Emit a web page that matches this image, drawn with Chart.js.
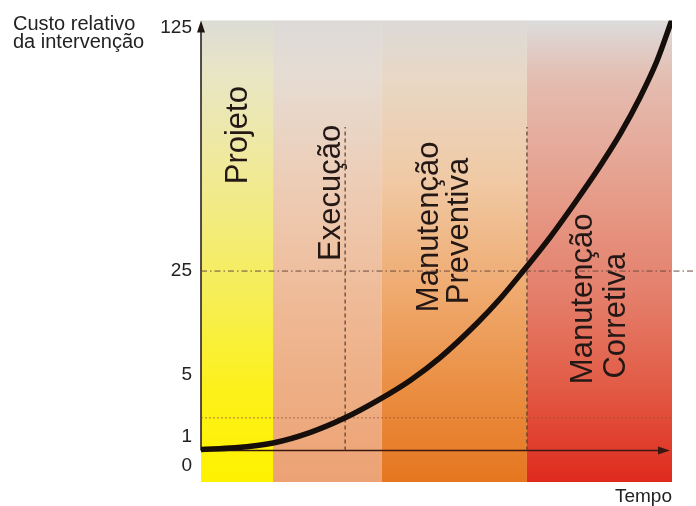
<!DOCTYPE html>
<html lang="pt">
<head>
  <meta charset="UTF-8">
  <title>Custo relativo da intervenção</title>
  <script src="https://cdn.jsdelivr.net/npm/chart.js"></script>
  <style>
    html, body { margin: 0; padding: 0; background: #fff; }
    .wrap { width: 696px; height: 506px; }
  </style>
</head>
<body>
<div class="wrap"><canvas id="costChart" width="696" height="506"></canvas></div>

<script>
  // phases along the time axis (0-100) and where they change
  const phaseNames = [['Projeto'], ['Execução'], ['Manutenção', 'Preventiva'], ['Manutenção', 'Corretiva']];
  const phaseEdges = [0, 15.3, 38.4, 69.2, 100];

  // cost curve (time, height on the drawing's 0-100 scale)
  const curveTime = [0, 7.2, 15.3, 23.1, 30.6, 38.0, 44.4, 50.7, 58.6, 63.5, 68.4, 74.1, 79.4, 84.7, 89.0, 93.2, 96.8, 100];
  const curveCost = [7.05, 7.4, 8.45, 10.7, 13.9, 17.95, 22.0, 26.9, 34.4, 39.7, 45.7, 53.0, 60.5, 68.4, 75.4, 83.3, 91.2, 100.2];

  // the cost axis is schematic: each label sits at its own height
  const costTickLevels = [3.6, 9.8, 23.3, 45.7, 98.3];
  const costTickLabels = ['0', '1', '5', '25', '125'];

  // guide lines
  const baseLevel = 6.84;      // where the time axis is drawn
  const level25 = 45.7;
  const level25End = 105.1;    // dashed line runs past the plot
  const dottedLevel = 13.9;
  const markerTimes = [30.6, 69.2];
  const markerTop = 76.9;

  const pts = (xs, ys) => xs.map((x, i) => ({ x: x, y: ys[i] }));

  // band gradients, top (grey) to bottom (saturated)
  const bandStops = [
    [[0, '#dcdcd6'], [0.12, '#e9e6c4'], [0.35, '#f1ea92'], [0.6, '#f6ee55'], [0.8, '#fcf11a'], [1, '#fff200']],
    [[0, '#dcdad8'], [0.12, '#e6dcd3'], [0.35, '#edcdb6'], [0.6, '#efbb98'], [0.8, '#eeae84'], [1, '#eca274']],
    [[0, '#dcdad8'], [0.12, '#e8d8c6'], [0.35, '#f0c9a4'], [0.6, '#efa86c'], [0.8, '#ea8e42'], [1, '#e6761f']],
    [[0, '#dcdcdc'], [0.12, '#e4beb2'], [0.35, '#e6a08e'], [0.6, '#e47e6a'], [0.8, '#e25a44'], [1, '#df2a1e']]
  ];
  // baseline / start of each rotated line, in axis units
  const labelAnchors = [
    [[9.8, 64.5]],
    [[29.5, 47.9]],
    [[50.3, 36.8], [56.7, 38.5]],
    [[83.0, 21.2], [90.0, 22.4]]
  ];

  const phaseBands = {
    id: 'phaseBands',
    beforeDatasetsDraw(chart) {
      const { ctx, chartArea: a, scales: { x, y } } = chart;
      ctx.save();
      phaseNames.forEach((names, i) => {
        const x0 = x.getPixelForValue(phaseEdges[i]);
        const x1 = x.getPixelForValue(phaseEdges[i + 1]);
        const g = ctx.createLinearGradient(0, a.top, 0, a.bottom);
        bandStops[i].forEach(s => g.addColorStop(s[0], s[1]));
        ctx.fillStyle = g;
        ctx.fillRect(x0, a.top, x1 - x0, a.bottom - a.top);
      });

      // rotated phase names
      ctx.fillStyle = '#231815';
      ctx.font = '31px "Liberation Sans", Arial, sans-serif';
      ctx.textAlign = 'left';
      ctx.textBaseline = 'alphabetic';
      phaseNames.forEach((names, i) => {
        names.forEach((txt, j) => {
          const p = labelAnchors[i][j];
          ctx.save();
          ctx.translate(x.getPixelForValue(p[0]), y.getPixelForValue(p[1]));
          ctx.rotate(-Math.PI / 2);
          ctx.fillText(txt, 0, 0);
          ctx.restore();
        });
      });

      // axes with arrow heads
      const ox = x.getPixelForValue(0);
      const oy = y.getPixelForValue(baseLevel);
      const xEnd = x.getPixelForValue(100) - 2;
      ctx.lineWidth = 1.5;
      ctx.strokeStyle = '#1e1512';
      ctx.fillStyle = '#1e1512';
      ctx.beginPath();
      ctx.moveTo(ox, oy);
      ctx.lineTo(ox, a.top + 8);
      ctx.stroke();
      ctx.beginPath();
      ctx.moveTo(ox, a.top);
      ctx.lineTo(ox - 4, a.top + 12);
      ctx.lineTo(ox + 4, a.top + 12);
      ctx.closePath();
      ctx.fill();

      ctx.strokeStyle = '#3a1810';
      ctx.fillStyle = '#3a1810';
      ctx.beginPath();
      ctx.moveTo(ox, oy);
      ctx.lineTo(xEnd - 8, oy);
      ctx.stroke();
      ctx.beginPath();
      ctx.moveTo(xEnd, oy);
      ctx.lineTo(xEnd - 12, oy - 4);
      ctx.lineTo(xEnd - 12, oy + 4);
      ctx.closePath();
      ctx.fill();
      ctx.restore();
    },
    afterDraw(chart) {
      const ctx = chart.ctx;
      ctx.save();
      ctx.fillStyle = '#222';
      ctx.font = '20px "Liberation Sans", Arial, sans-serif';
      ctx.textAlign = 'left';
      ctx.textBaseline = 'alphabetic';
      ctx.fillText('Custo relativo', 13, 30);
      ctx.fillText('da intervenção', 13, 48);
      ctx.restore();
    }
  };

  Chart.defaults.font.family = '"Liberation Sans", Arial, sans-serif';

  const guide = (data, color, dash, width) => ({
    data: data,
    borderColor: color,
    borderDash: dash,
    borderWidth: width,
    pointRadius: 0,
    tension: 0,
    clip: false
  });

  new Chart(document.getElementById('costChart'), {
    type: 'line',
    data: {
      datasets: [
        {
          label: 'Custo relativo',
          data: pts(curveTime, curveCost),
          borderColor: '#160e0b',
          borderWidth: 5.5,
          pointRadius: 0,
          cubicInterpolationMode: 'monotone'
        },
        guide([{ x: 0, y: dottedLevel }, { x: 100, y: dottedLevel }], 'rgba(150,85,55,0.75)', [2, 2], 1),
        guide([{ x: 0, y: level25 }, { x: level25End, y: level25 }], '#6b4a3e', [6, 3, 1.5, 3], 1),
        guide([{ x: markerTimes[0], y: baseLevel }, { x: markerTimes[0], y: markerTop }], '#5b3b30', [4, 3], 1.2),
        guide([{ x: markerTimes[1], y: baseLevel }, { x: markerTimes[1], y: markerTop }], '#5b3b30', [4, 3], 1.2)
      ]
    },
    options: {
      responsive: false,
      animation: false,
      layout: { padding: { left: 0, top: 14, right: 24, bottom: 0 } },
      plugins: {
        legend: { display: false },
        tooltip: { enabled: false }
      },
      scales: {
        x: {
          type: 'linear',
          min: 0,
          max: 100,
          grid: { display: false },
          border: { display: false },
          ticks: { display: false },
          title: {
            display: true,
            text: 'Tempo',
            align: 'end',
            color: '#222',
            font: { size: 19 },
            padding: { top: 0, bottom: -2 }
          },
          afterFit(scale) { scale.height = 24; }
        },
        y: {
          type: 'linear',
          min: 0,
          max: 100,
          grid: { display: false, drawTicks: false },
          border: { display: false },
          afterBuildTicks(scale) {
            scale.ticks = costTickLevels.map(v => ({ value: v }));
          },
          ticks: {
            autoSkip: false,
            color: '#222',
            font: { size: 19 },
            padding: 9,
            callback: (value, i) => costTickLabels[i]
          },
          afterFit(scale) { scale.width = 201; }
        }
      }
    },
    plugins: [phaseBands]
  });
</script>
</body>
</html>
